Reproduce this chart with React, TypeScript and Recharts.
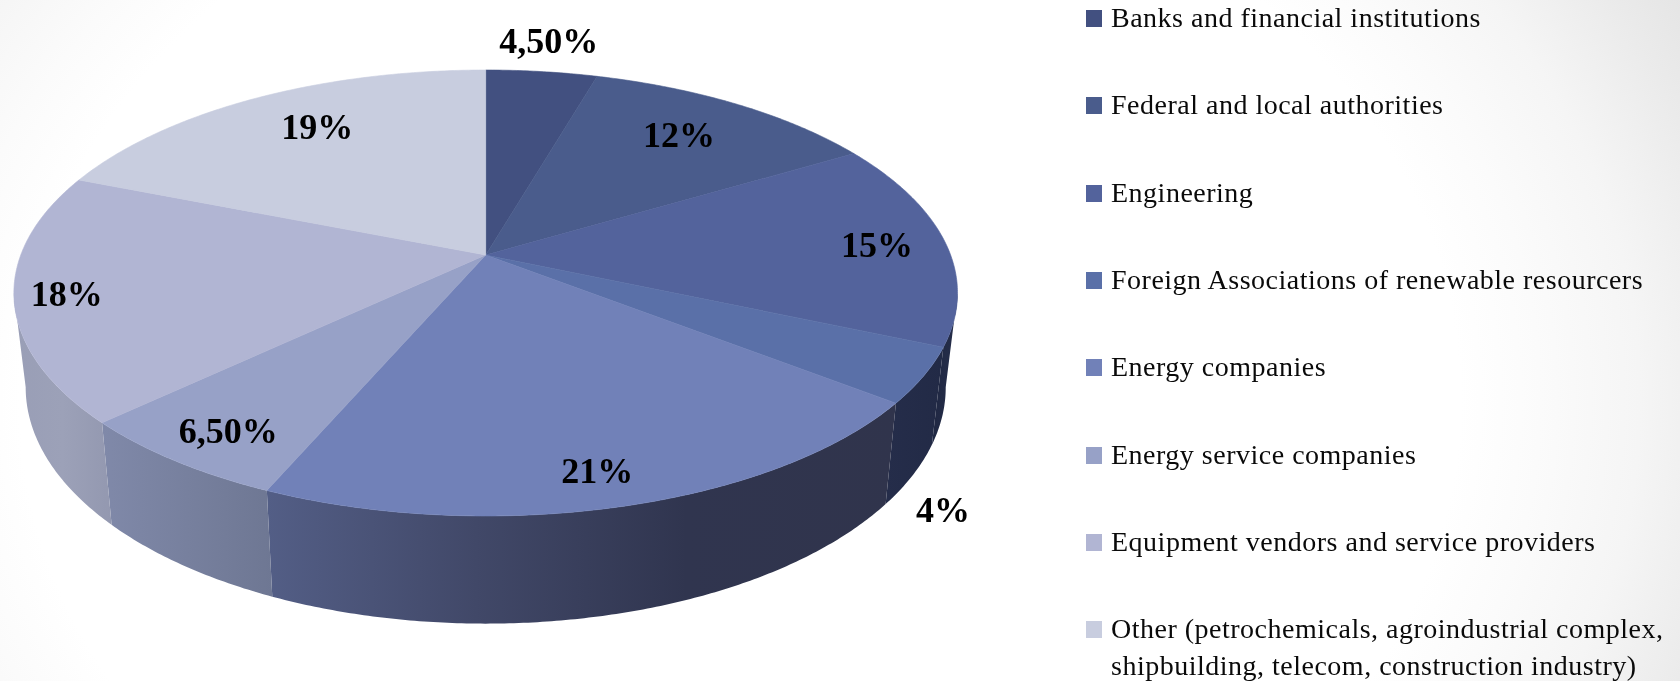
import React from "react";
import { PieChart, Pie, Legend } from "recharts";

const categories = [
  "Banks and financial institutions",
  "Federal and local authorities",
  "Engineering",
  "Foreign Associations of renewable resourcers",
  "Energy companies",
  "Energy service companies",
  "Equipment vendors and service providers",
  "Other (petrochemicals, agroindustrial complex, shipbuilding, telecom, construction industry)",
];
const shares = [4.5, 12, 15, 4, 21, 6.5, 18, 19];
const shareLabels = ["4,50%", "12%", "15%", "4%", "21%", "6,50%", "18%", "19%"];

const topColors = ["#425080", "#4a5c8c", "#53639c", "#5a70a8", "#7181b8", "#97a1c7", "#b1b5d3", "#c8cddf"];
const wallStops: string[][] = [
  ["#2a3556", "#2a3556"],
  ["#2a3556", "#2a3556"],
  ["#1f2742", "#262e4a"],
  ["#252d4a", "#222a46"],
  ["#535e86", "#414868", "#30354f", "#30344c"],
  ["#8089a9", "#6e7793"],
  ["#999eb6", "#9ca1b8", "#9398b0"],
  ["#b0b4c9", "#b0b4c9"],
];
const labelNudges = [
  [22, -68], [11, 1], [69, 11.5], [159, 185], [20, 62], [-50, 51], [-92, 22], [-2, -2],
];

const data = categories.map((name, i) => ({ name, value: shares[i], fill: topColors[i] }));

const FONT = "'Liberation Serif', serif";
const CENTER_X = 485.7;
const CENTER_Y = 255;
const RADIUS = 472;
// Perspective of the tilted disc
const TILT = 0.1704;
const X_SCALE = 0.985;
const Y_SCALE = 0.4587;
// Bottom rim of the disc
const RIM_X = 0.975;
const RIM_Y = 1.06;
const RIM_SHIFT = 92;
const RIM_FROM = 90 + (Math.asin(TILT) * 180) / Math.PI;
const RIM_TO = 360 - RIM_FROM;

const project = (cx: number, cy: number, R: number, deg: number, r = 1) => {
  const t = (deg * Math.PI) / 180;
  const w = 1 + TILT * r * Math.cos(t);
  return {
    x: cx + (X_SCALE * R * r * Math.sin(t)) / w,
    y: cy - (Y_SCALE * R * r * Math.cos(t)) / w,
  };
};
const projectRim = (cx: number, cy: number, R: number, deg: number) => {
  const p = project(cx, cy, R, deg);
  return { x: cx + (p.x - cx) * RIM_X, y: cy + (p.y - cy) * RIM_Y + RIM_SHIFT };
};
const sweep = (from: number, to: number) => {
  const out: number[] = [];
  const n = Math.max(2, Math.ceil((to - from) * 2));
  for (let i = 0; i <= n; i++) out.push(from + ((to - from) * i) / n);
  return out;
};
const toPath = (pts: { x: number; y: number }[]) =>
  pts.map((p, i) => `${i ? "L" : "M"}${p.x.toFixed(2)} ${p.y.toFixed(2)}`).join(" ");

const TiltedSector = (props: any) => {
  const { cx, cy, outerRadius, startAngle, endAngle, fill, index } = props;
  const a0 = 90 - startAngle;
  const a1 = 90 - endAngle;
  const top = sweep(a0, a1).map((d) => project(cx, cy, outerRadius, d));
  const w0 = Math.max(a0, RIM_FROM);
  const w1 = Math.min(a1, RIM_TO);
  let wall = null;
  if (w1 > w0) {
    const angles = sweep(w0, w1);
    const up = angles.map((d) => project(cx, cy, outerRadius, d));
    const down = angles.map((d) => projectRim(cx, cy, outerRadius, d)).reverse();
    const xs = [...up, ...down].map((p) => p.x);
    const id = `wall-${index}`;
    const stops = wallStops[index];
    wall = (
      <>
        <defs>
          <linearGradient id={id} gradientUnits="userSpaceOnUse" x1={Math.min(...xs)} x2={Math.max(...xs)} y1={0} y2={0}>
            {stops.map((c, i) => (
              <stop key={i} offset={i / (stops.length - 1)} stopColor={c} />
            ))}
          </linearGradient>
        </defs>
        <path d={`${toPath([...up, ...down])} Z`} fill={`url(#${id})`} />
      </>
    );
  }
  return (
    <g>
      {wall}
      <path d={`${toPath([{ x: cx, y: cy }, ...top])} Z`} fill={fill} stroke={fill} strokeWidth={0.6} />
    </g>
  );
};

const renderLabel = (props: any) => {
  const { cx, cy, outerRadius, midAngle, index } = props;
  const p = project(cx, cy, outerRadius, 90 - midAngle, 0.7);
  const [dx, dy] = labelNudges[index];
  return (
    <text
      key={index}
      x={p.x + dx}
      y={p.y + dy}
      textAnchor="middle"
      fontFamily={FONT}
      fontWeight={700}
      fontSize={36}
      fill="#000"
    >
      {shareLabels[index]}
    </text>
  );
};

const LegendBox = ({ payload }: any) => (
  <div style={{ position: "relative", width: 594, fontFamily: FONT, fontSize: 28, letterSpacing: 0.5, color: "#0a0a0a" }}>
    {(payload || []).map((e: any, i: number) => (
      <div key={i} style={{ position: "absolute", left: 0, top: i * 87.3 - 1, width: 594, display: "flex" }}>
        <span style={{ width: 16, height: 17, marginTop: 11, marginRight: 9, flex: "none", background: e.color }} />
        <span style={{ lineHeight: "37px" }}>{e.value}</span>
      </div>
    ))}
  </div>
);

export default function App() {
  return (
    <div
      style={{
        position: "fixed",
        left: 0,
        top: 0,
        width: 1680,
        height: 681,
        overflow: "hidden",
        background:
          "radial-gradient(1000px 800px at 740px 400px, #ffffff 72%, #fbfbfb 80%, #f5f5f5 90%, #ebebeb 100%, #e2e2e2 110%)",
      }}
    >
      <PieChart width={1680} height={681} margin={{ top: 0, right: 0, bottom: 0, left: 0 }}>
        <Pie
          data={data}
          dataKey="value"
          nameKey="name"
          cx={CENTER_X}
          cy={CENTER_Y}
          outerRadius={RADIUS}
          startAngle={90}
          endAngle={-270}
          stroke="none"
          shape={TiltedSector}
          activeShape={TiltedSector}
          label={renderLabel}
          labelLine={false}
          isAnimationActive={false}
        />
        <Legend
          layout="vertical"
          align="right"
          verticalAlign="top"
          itemSorter={null}
          content={<LegendBox />}
          wrapperStyle={{ position: "absolute", left: 1086, top: 0, width: 594, height: 681 }}
        />
      </PieChart>
    </div>
  );
}
